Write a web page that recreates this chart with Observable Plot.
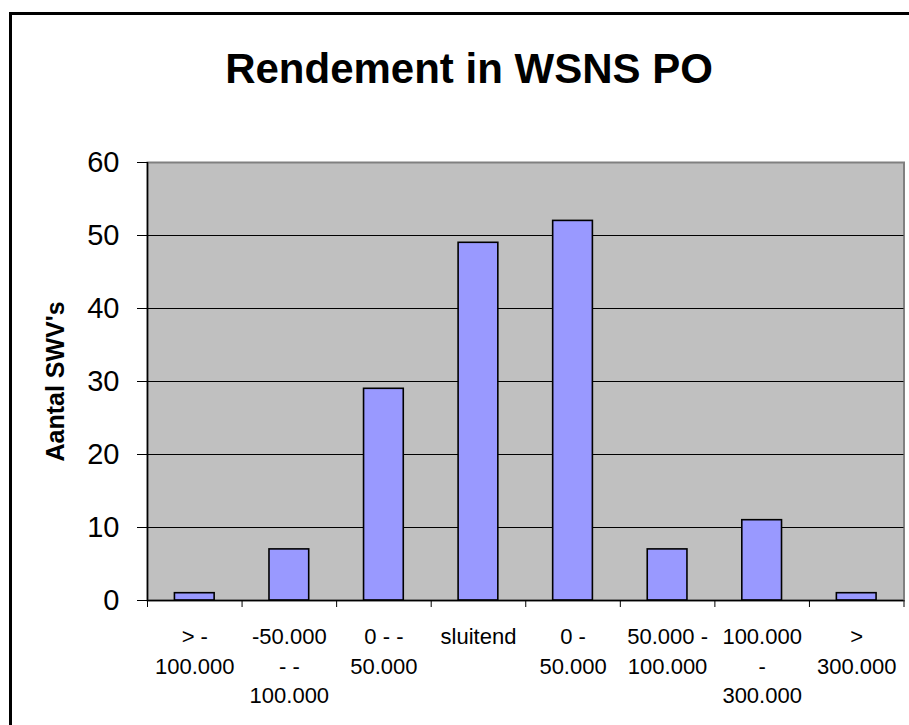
<!DOCTYPE html>
<html>
<head>
<meta charset="utf-8">
<script src="https://cdn.jsdelivr.net/npm/d3@7"></script>
<script src="https://cdn.jsdelivr.net/npm/@observablehq/plot@0.6"></script>
<style>
  html, body { margin: 0; padding: 0; background: #fff; }
  #wrap { position: relative; width: 909px; height: 725px; overflow: hidden; font-family: "Liberation Sans", Arial, sans-serif; }
  #border { position: absolute; left: 9px; top: 12px; width: 1000px; height: 1000px; border: 3px solid #000; box-sizing: border-box; }
  #title { position: absolute; left: 0; top: 48px; width: 938px; text-align: center; font-size: 42px; line-height: 42px; font-weight: bold; color: #000; }
  #chart { position: absolute; left: 0; top: 120px; }
</style>
</head>
<body>
<div id="wrap">
  <div id="border"></div>
  <div id="title">Rendement in WSNS PO</div>
  <div id="chart"></div>
</div>
<script>
const categories = ["> -\n100.000", "-50.000\n- -\n100.000", "0 - -\n50.000", "sluitend", "0 -\n50.000", "50.000 -\n100.000", "100.000\n-\n300.000", ">\n300.000"];
const values = [1, 7, 29, 49, 52, 7, 11, 1];
const yTicks = [0, 10, 20, 30, 40, 50, 60];
const yLabel = "Aantal SWV's";

const data = categories.map((c, i) => ({cat: c, value: values[i]}));

const W = 909, H = 605;
const mL = 147, mR = 5.5, mT = 42, mB = 125;
const step = (W - mL - mR) / categories.length;

const chart = Plot.plot({
  width: W,
  height: H,
  marginLeft: mL,
  marginRight: mR,
  marginTop: mT,
  marginBottom: mB,
  style: {fontFamily: "'Liberation Sans', Arial, sans-serif", background: "transparent", color: "#000"},
  x: {domain: categories, paddingInner: 0.58, paddingOuter: 0.29, round: false, axis: null},
  y: {domain: [0, 60], axis: null},
  marks: [
    Plot.frame({fill: "#c0c0c0", stroke: "#808080", strokeWidth: 2}),
    Plot.ruleY(yTicks.filter(v => v > 0 && v < 60), {stroke: "#000", strokeWidth: 1.2}),
    Plot.barY(data, {x: "cat", y: "value", fill: "#9999ff", stroke: "#000", strokeWidth: 1.6}),
    Plot.ruleY([0], {stroke: "#000", strokeWidth: 1.5}),
    Plot.ruleX([categories[0]], {dx: -step / 2, stroke: "#000", strokeWidth: 1.5}),
    Plot.axisY(yTicks, {tickSize: 10, tickPadding: 18, fontSize: 29, label: null, stroke: "#000"}),
    Plot.axisX({tickSize: 7, dx: -step / 2, tickFormat: () => "", label: null, stroke: "#000"}),
    Plot.axisX([categories[categories.length - 1]], {tickSize: 7, dx: step / 2, tickFormat: () => "", label: null, stroke: "#000"}),
    Plot.text(categories, {x: d => d, frameAnchor: "bottom", lineAnchor: "top", dy: 23, fontSize: 22, lineHeight: 1.34, fill: "#000"}),
    Plot.text([yLabel], {frameAnchor: "left", rotate: -90, dx: -92, dy: 0, fontSize: 25, fontWeight: "bold", fill: "#000", textAnchor: "middle"})
  ]
});
document.getElementById("chart").appendChild(chart);
</script>
</body>
</html>
